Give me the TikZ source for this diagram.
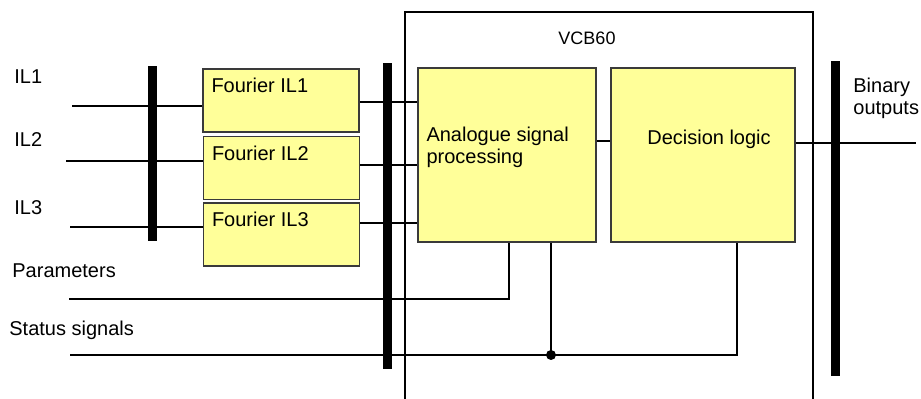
\documentclass[tikz,border=0pt]{standalone}
\usepackage{fontspec}
\setmainfont{Liberation Sans}
\usetikzlibrary{positioning, calc}
\definecolor{vcbyellow}{HTML}{FFFF99}
\definecolor{vcbgrey}{HTML}{3A3A3A}

\begin{document}
\begin{tikzpicture}[
    x=0.5pt, y=-0.5pt,
    font=\fontsize{10}{11}\selectfont,
    e/.style={line width=0.7pt, black},
    bar/.style={rectangle, fill=black, inner sep=0pt, minimum width=4.5pt},
    fbox/.style={rectangle, draw=vcbgrey, fill=vcbyellow, line width=0.9pt, minimum width=78pt, minimum height=31.5pt, inner sep=0pt,
      label={[anchor=north west, inner sep=0pt, xshift=4.5pt, yshift=-5pt]north west:#1}},
    pbox/.style={rectangle, draw=vcbgrey, fill=vcbyellow, line width=0.9pt, minimum height=87pt, inner sep=0pt},
    lbl/.style={anchor=west, inner sep=0pt},
    dot/.style={circle, fill=black, inner sep=0pt, minimum size=5pt}
  ]
  \useasboundingbox (0,0) rectangle (921,399);

  % device frame, open at the bottom
  \draw[e] (405,399) |- (813,12) -- (813,399);
  \node[font=\fontsize{9}{10}\selectfont] (vcb) at (587,38) {VCB60};

  % blocks
  \node[fbox=Fourier IL1] (f1) at (281,100.5) {};
  \node[fbox=Fourier IL2] (f2) at (281.5,168) {};
  \node[fbox=Fourier IL3] (f3) at (281.5,234.5) {};
  \node[pbox, minimum width=89pt] (asp) at (507,155) {};
  \node[pbox, minimum width=92pt] (dl) at (703,155) {};
  \node[lbl, align=left] (asptxt) at ([xshift=4.5pt, yshift=3.75pt]asp.west) {Analogue signal\\processing};
  \node (dltxt) at ([xshift=3pt, yshift=8pt]dl.center) {Decision logic};

  % buses
  \node[bar, minimum height=87.5pt] (b1) at (152.5,153.5) {};
  \node[bar, minimum height=153pt] (b2) at (387.5,216) {};
  \node[bar, minimum height=157.5pt] (b3) at (835,218.5) {};

  % inputs and outputs
  \node[lbl] (l1) at (14,77) {IL1};
  \node[lbl] (l2) at (14,140) {IL2};
  \node[lbl] (l3) at (14,208) {IL3};
  \node[lbl] (lpar) at (12,271) {Parameters};
  \node[lbl] (lst) at (9,330) {Status signals};
  \node[lbl, align=left] (lout) at (853,98) {Binary\\outputs};

  \coordinate (il1) at (72,106);
  \coordinate (il2) at (66,161);
  \coordinate (il3) at (70,227);
  \coordinate (par) at (69,299);
  \coordinate (st) at (70,355);
  \coordinate (out) at (916,143);

  \draw[e] (il1) -- (il1 -| f1.west);
  \draw[e] (il2) -- (il2 -| f2.west);
  \draw[e] (il3) -- (il3 -| f3.west);
  \draw[e] ([yshift=-0.75pt]f1.east) -- ([yshift=-0.75pt]f1.east -| asp.west);
  \draw[e] ([yshift=1.5pt]f2.east) -- ([yshift=1.5pt]f2.east -| asp.west);
  \draw[e] ([yshift=5.75pt]f3.east) -- ([yshift=5.75pt]f3.east -| asp.west);
  \draw[e] ([yshift=7pt]asp.east) -- ([yshift=7pt]asp.east -| dl.west);
  \draw[e] ([yshift=6pt]dl.east) -- (out);
  \draw[e] (par) -| ([xshift=1pt]asp.south);
  \draw[e] (st) -| ([xshift=17pt]dl.south);
  \draw[e] ([xshift=22pt]asp.south) -- ([xshift=22pt]asp.south |- st) node[dot] (j) {};
\end{tikzpicture}
\end{document}
